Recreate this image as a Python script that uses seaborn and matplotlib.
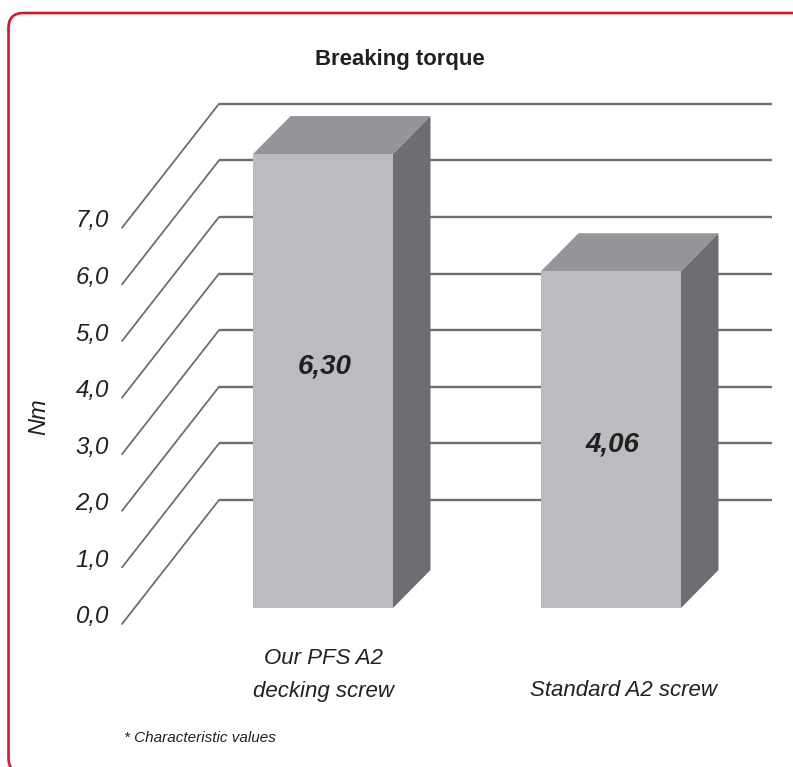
"""
Breaking torque - 3D look bar chart
"""

import pandas as pd
import matplotlib
matplotlib.use('Agg')
import matplotlib.pyplot as plt
import seaborn as sns
from matplotlib.patches import FancyBboxPatch, Polygon

# data
categories = ['Our PFS A2\ndecking screw', 'Standard A2 screw']
value_labels = ['6,30', '4,06']
# bar heights as drawn against the wall grid (the picture does not scale them to the labels)
drawn_heights = [8.02, 5.95]
grid_values = [0, 1, 2, 3, 4, 5, 6, 7]
tick_labels = ['0,0', '1,0', '2,0', '3,0', '4,0', '5,0', '6,0', '7,0']

# pixel geometry of the picture
WIDTH, HEIGHT = 793, 767
X0, CAT_STEP = 323.0, 288.0   # px of first category, px per category
Y0, UNIT = 608.0, 56.6        # px of bar foot, px per axis unit
DEPTH_X = 37.5 / CAT_STEP
DEPTH_Y = 38.0 / UNIT

TEXT = '#231F20'
FRONT = '#BBBCC0'
TOP = '#939598'
SIDE = '#6D6E71'
RED = '#D7182A'


def px_x(px):
    return (px - X0) / CAT_STEP


def px_y(py):
    return (Y0 - py) / UNIT


def draw_walls(ax):
    """left wall diagonals and back wall lines"""
    for v in grid_values:
        front_y = px_y(624) + v
        back_y = px_y(500) + v
        ax.plot([px_x(122), px_x(219)], [front_y, back_y], color=SIDE, lw=1.3, zorder=1,
                solid_joinstyle='miter')
        ax.plot([px_x(219), px_x(772)], [back_y, back_y], color=SIDE, lw=1.7, zorder=1,
                solid_capstyle='butt')


def draw_depth(ax):
    """top and side faces, taken from the bars seaborn has drawn"""
    for bar in ax.patches:
        x1 = bar.get_x()
        x2 = x1 + bar.get_width()
        h = bar.get_height()
        ax.add_patch(Polygon([(x1, h), (x2, h), (x2 + DEPTH_X, h + DEPTH_Y), (x1 + DEPTH_X, h + DEPTH_Y)],
                             closed=True, facecolor=TOP, edgecolor='none', zorder=3))
        ax.add_patch(Polygon([(x2, 0), (x2 + DEPTH_X, DEPTH_Y), (x2 + DEPTH_X, h + DEPTH_Y), (x2, h)],
                             closed=True, facecolor=SIDE, edgecolor='none', zorder=3))


def main():
    sns.set_theme(style='white')
    plt.rcParams['font.family'] = ['Liberation Sans', 'DejaVu Sans']

    fig = plt.figure(figsize=(WIDTH / 100, HEIGHT / 100), dpi=100)
    ax = fig.add_axes([0, 0, 1, 1])

    df = pd.DataFrame({'category': categories, 'height': drawn_heights})
    sns.barplot(data=df, x='category', y='height', color=FRONT, saturation=1,
                width=140 / CAT_STEP, linewidth=0, ax=ax, zorder=4)

    ax.set_xlim(px_x(0), px_x(WIDTH))
    ax.set_ylim(px_y(HEIGHT), px_y(0))
    ax.axis('off')

    draw_walls(ax)
    draw_depth(ax)

    # rounded frame, runs off the right and bottom of the picture
    fig.add_artist(FancyBboxPatch((8.5, -6), 860, HEIGHT - 13 + 6, transform=None,
                                  boxstyle='round,pad=0,rounding_size=15',
                                  facecolor='none', edgecolor=RED, lw=1.9))

    # texts
    for v, label in zip(grid_values, tick_labels):
        ax.text(px_x(109), px_y(617) + v, label, ha='right', va='center', fontsize=17.3,
                style='italic', color=TEXT)

    ax.text(px_x(400), px_y(60), 'Breaking torque', ha='center', va='center', fontsize=15.9,
            fontweight='bold', color=TEXT)
    ax.text(px_x(39), px_y(417), 'Nm', ha='center', va='center', rotation=90, fontsize=17,
            style='italic', color=TEXT)

    ax.text(px_x(324), px_y(675), categories[0], ha='center', va='center', fontsize=16,
            style='italic', color=TEXT, linespacing=1.75)
    ax.text(px_x(623), px_y(691), categories[1], ha='center', va='center', fontsize=16,
            style='italic', color=TEXT)

    ax.text(px_x(325), px_y(366), value_labels[0], ha='center', va='center', fontsize=20,
            style='italic', fontweight='bold', color=TEXT, zorder=6)
    ax.text(px_x(612), px_y(444), value_labels[1], ha='center', va='center', fontsize=20,
            style='italic', fontweight='bold', color=TEXT, zorder=6)

    ax.text(px_x(124), px_y(738), '* Characteristic values', ha='left', va='center', fontsize=11,
            style='italic', color=TEXT)

    plt.savefig('out.png', dpi=100)
    plt.close()


if __name__ == "__main__":
    main()
